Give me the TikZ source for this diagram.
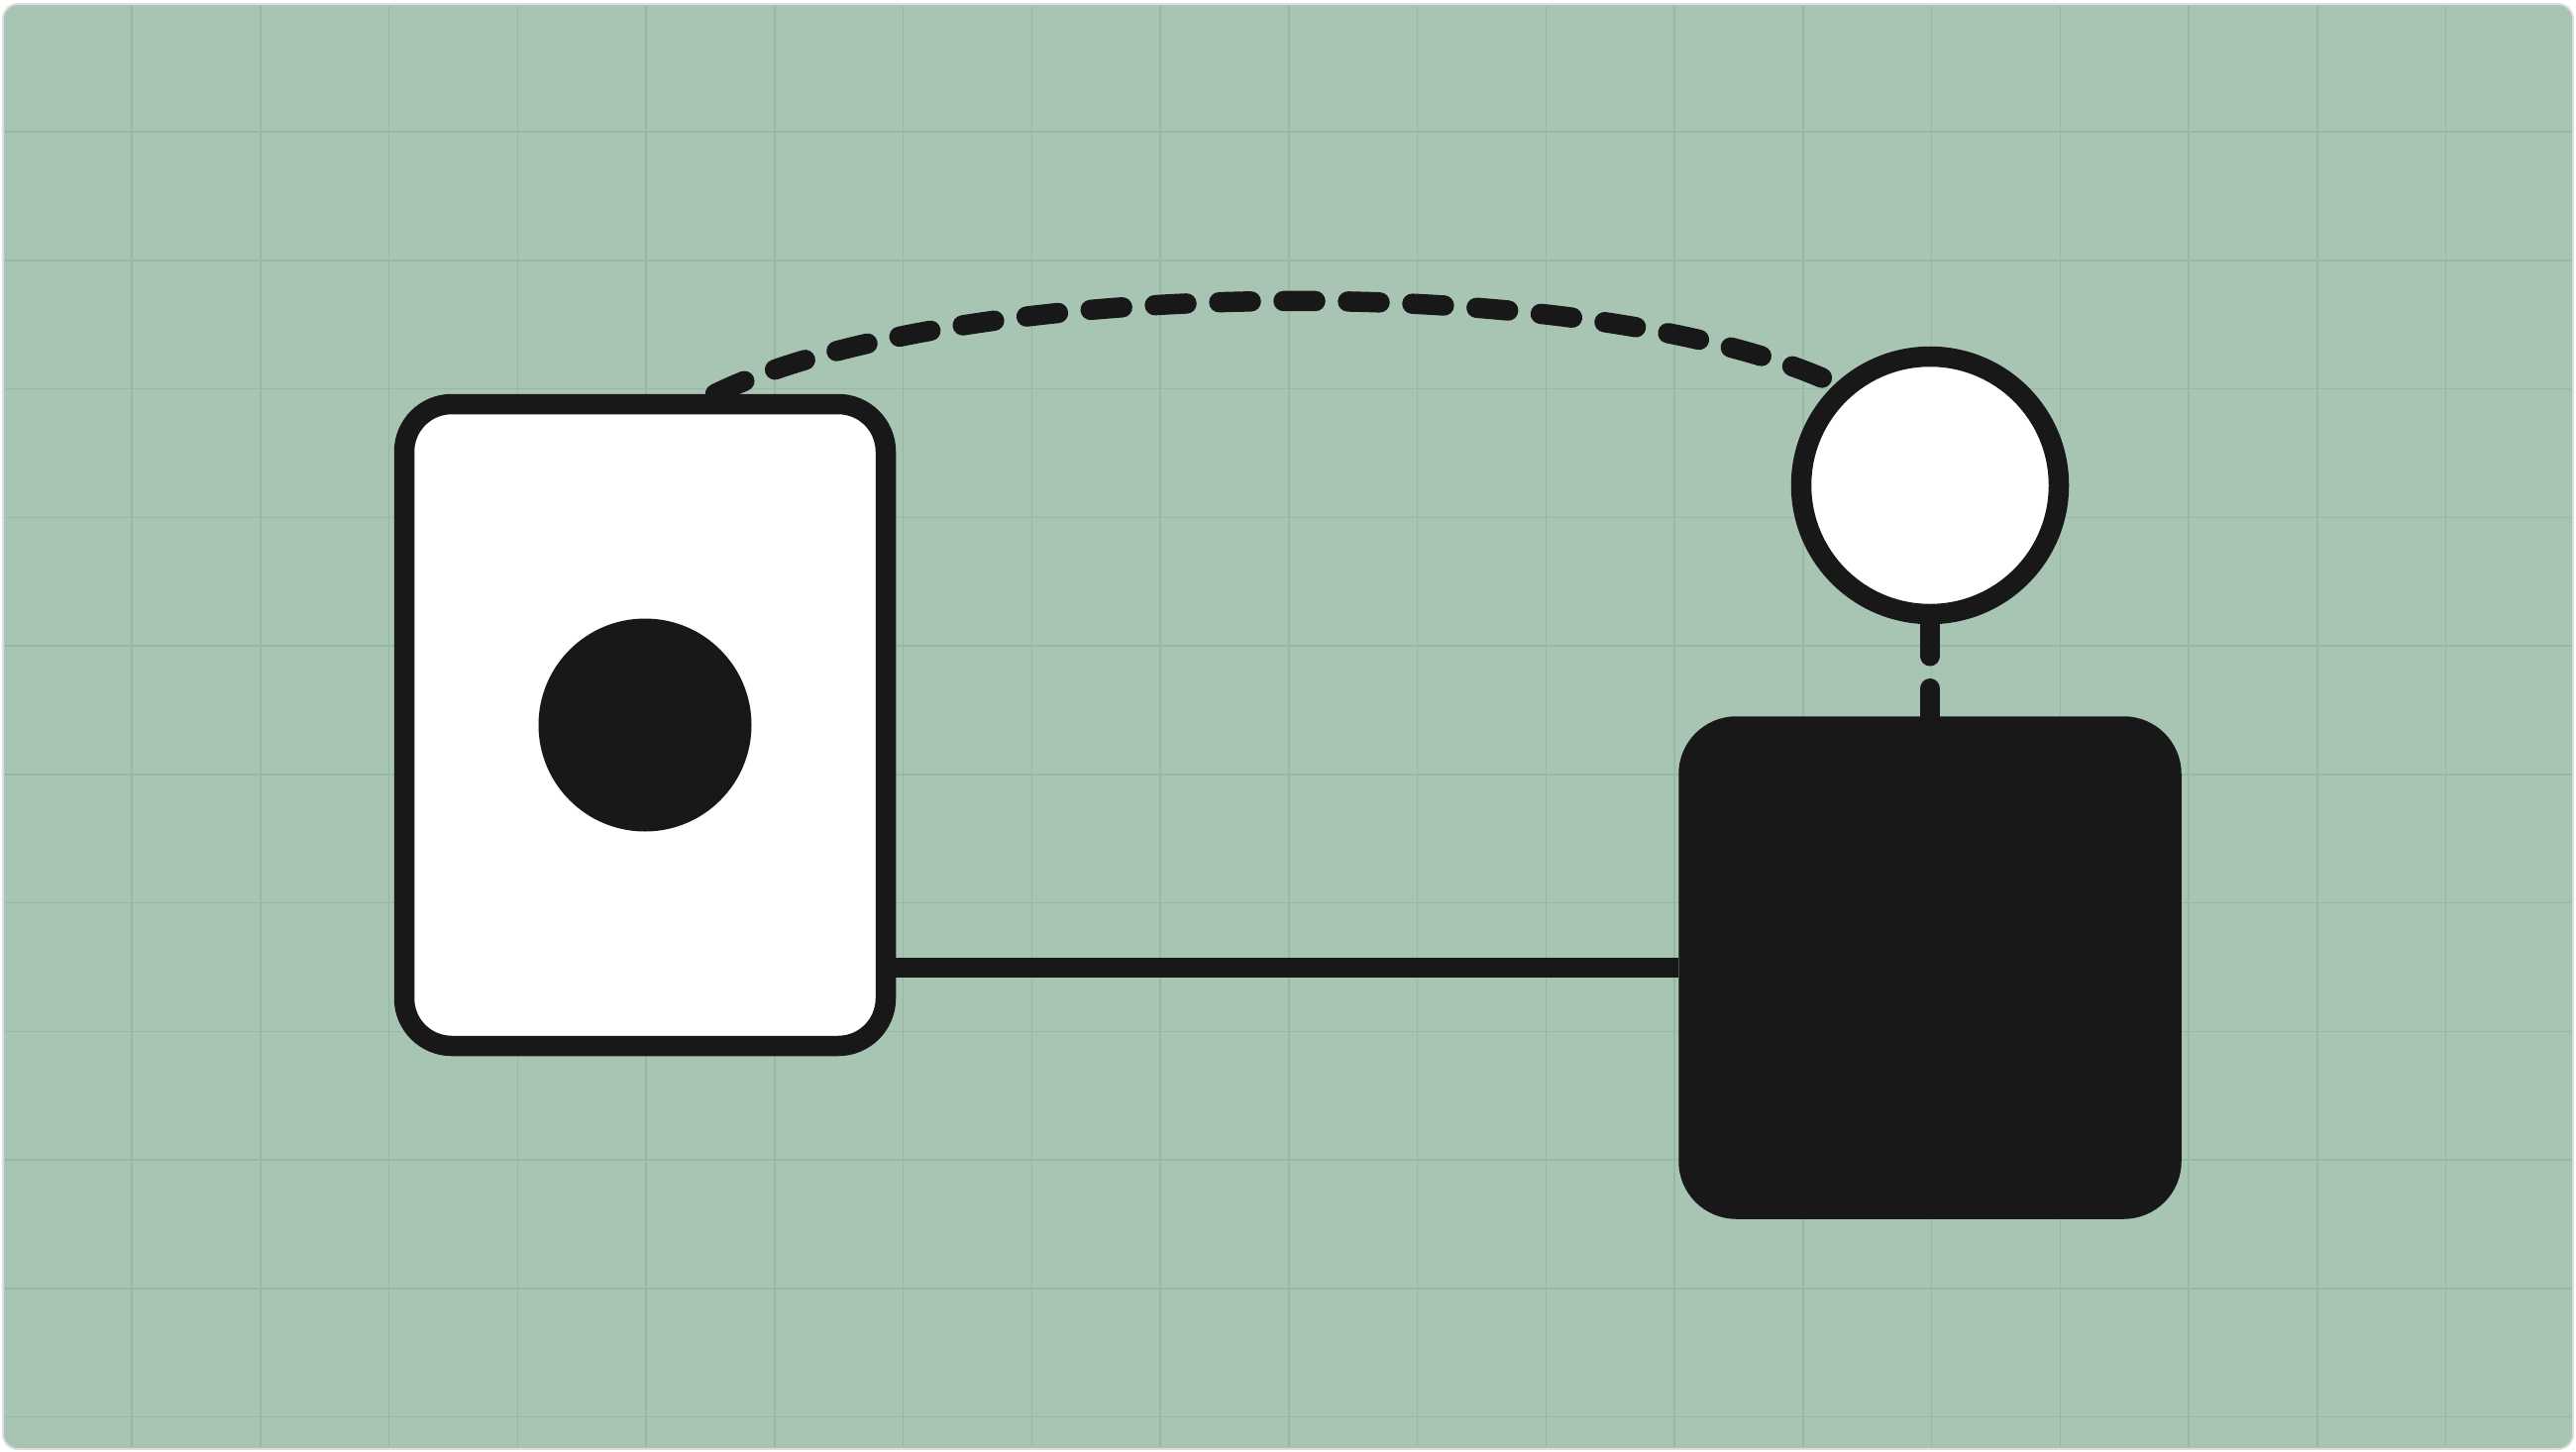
\documentclass[tikz,border=0pt]{standalone}
\usepackage{tikz}
\usetikzlibrary{positioning}

\definecolor{cardgreen}{HTML}{A8C5B4}
\definecolor{gridgreen}{HTML}{97B8A4}
\definecolor{cardedge}{HTML}{DCDEDD}
\definecolor{ink}{HTML}{181818}

\begin{document}
\begin{tikzpicture}[box node/.style={rectangle,draw=ink,line width=0.205cm,rounded corners=0.48cm,inner sep=0pt},
    round node/.style={circle,draw=ink,fill=white,line width=0.205cm,inner sep=0pt},
    link/.style={draw=ink,line width=0.205cm},
    dash link/.style={link,line cap=round,dash pattern=on 0.32cm off 0.33cm},
    grid line/.style={draw=gridgreen,line width=0.015cm}]
    \useasboundingbox (0,0) rectangle (26,-14.66);
    \draw[fill=cardgreen,draw=cardedge,line width=0.02cm,rounded corners=0.15cm] (0.03,-0.04) rectangle (25.97,-14.63);
    \foreach \i in {0,...,18}
        \draw[grid line] ({1.33+1.2975*\i},-0.06) -- ({1.33+1.2975*\i},-14.61);
    \foreach \j in {0,...,10}
        \draw[grid line] (0.05,{-1.33-1.2975*\j}) -- (25.95,{-1.33-1.2975*\j});

    \node[box node,fill=white,minimum width=4.86cm,minimum height=6.48cm] (1) at (6.51,-7.32) {};
    \node[circle,fill=ink,minimum size=2.15cm,inner sep=0pt] (2) at (1.center) {};
    \node[round node,minimum size=2.6cm] (3) at (19.48,-4.90) {};
    \node[box node,fill=ink,minimum size=4.87cm] (4) [below = 0.93cm of 3] {};

    \path[link] (4.west) -- (4.west -| 1.east);
    \path[dash link]
    (3.south) edge node {} (4.north)
    (1.78) edge[out=26,in=155,looseness=0.62] node {} (3.133)
    ;
\end{tikzpicture}
\end{document}
